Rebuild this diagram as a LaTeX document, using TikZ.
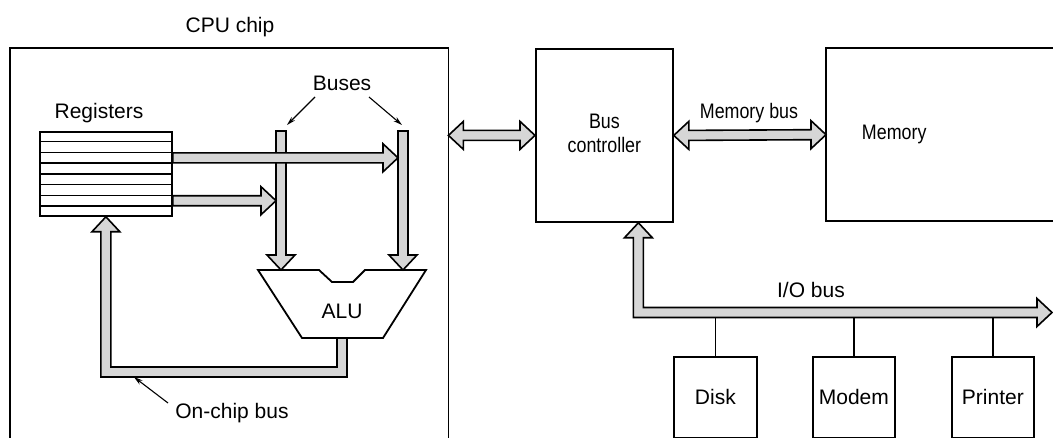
\documentclass[tikz,border=0pt]{standalone}
\usepackage{fontspec}
\setmainfont{Liberation Sans}
\usepackage{graphicx}
\usetikzlibrary{calc,arrows.meta}
\definecolor{busgray}{RGB}{214,214,214}
\newcommand\fatdown[2]{\filldraw[fatbus] ($(#1)+(-5,0)$) -- ($(#2)+(-5,-15)$) -- ++(-9,0) -- (#2) -- ++(14,-15) -- ++(-9,0) -- ($(#1)+(5,0)$) -- cycle;}
\newcommand\fatright[2]{\filldraw[fatbus] ($(#1)+(0,-5)$) -- ($(#2)+(-15,-5)$) -- ++(0,-9) -- (#2) -- ++(-15,14) -- ++(0,-9) -- ($(#1)+(0,5)$) -- cycle;}
\newcommand\fatboth[2]{\filldraw[fatbus] (#1) -- ++(15,-14) -- ++(0,9) -- ($(#2)+(-15,-5)$) -- ++(0,-9) -- (#2) -- ++(-15,14) -- ++(0,-9) -- ($(#1)+(15,5)$) -- ++(0,9) -- cycle;}
\begin{document}
\begin{tikzpicture}[x=1pt,y=-1pt,
  every node/.style={font=\fontsize{21}{24}\selectfont, inner sep=0pt},
  box/.style={draw, line width=1.8pt, anchor=north west},
  edgeline/.style={line width=1.8pt},
  fatbus/.style={fill=busgray, draw=black, line width=1.6pt, line join=miter},
  lbl/.style={anchor=base},
  pointer/.style={line width=1.1pt, -{Stealth[length=9pt,width=5pt]}}]
\useasboundingbox (0,0) rectangle (1053,438);

% CPU chip
\node[anchor=north west, minimum width=438, minimum height=392] (cpu) at (10,48) {};
\draw[edgeline] (cpu.south west) -- (cpu.north west) -- (cpu.north east) -- (cpu.south east);
\node[lbl] (cpulbl) at (230,33) {CPU chip};

% Registers
\node[box, minimum width=132, minimum height=84] (reg) at (39,131) {};
\foreach \k in {1,...,7}
  \draw[line width=1.5pt] ($(reg.north west)!\k/8!(reg.south west)$) -- ($(reg.north east)!\k/8!(reg.south east)$);
\node[lbl] (reglbl) at (99,119) {Registers};

% coordinates
\coordinate (alu1) at (281,270);
\coordinate (alu2) at (403,270);
\coordinate (aluB) at (342,338);
\coordinate (b1) at (281,131);
\coordinate (b2) at (403,131);
\coordinate (b1w) at ($(b1)+(-5,0)$);
\coordinate (b2w) at ($(b2)+(-5,0)$);
\coordinate (ocy) at (0,372);
\coordinate (r3) at ($(reg.north east)!2.5/8!(reg.south east)$);
\coordinate (r7) at ($(reg.north east)!6.5/8!(reg.south east)$);

% On-chip bus
\filldraw[fatbus] ($(aluB)+(5,0)$) -- ($(aluB |- ocy)+(5,5)$) -- ($(reg.south |- ocy)+(-5,5)$)
  -- ($(reg.south)+(-5,15)$) -- ++(-9,0) -- (reg.south) -- ++(14,15) -- ++(-9,0)
  -- ($(reg.south |- ocy)+(5,-5)$) -- ($(aluB |- ocy)+(-5,-5)$) -- ($(aluB)+(-5,0)$) -- cycle;

% ALU
\draw[edgeline, fill=white] (258,270) -- (319,270) -- (332,282) -- (353,282) -- (365,270) -- (426,270) -- (383,338) -- (302,338) -- cycle;
\node[lbl] (alulbl) at (342,319) {ALU};

% Buses
\fatdown{b1}{alu1}
\fatdown{b2}{alu2}
\fatright{r3}{b2w |- r3}
\fatright{r7}{b1w |- r7}
\node[lbl] (buslbl) at (342,91) {Buses};
\draw[pointer] ($(buslbl.base)+(-27,6)$) -- ($(b1)+(6,-6)$);
\draw[pointer] ($(buslbl.base)+(27,6)$) -- ($(b2)+(-1,-6)$);

\node[lbl] (oclbl) at (232,418) {On-chip bus};
\draw[pointer] ($(oclbl.base)+(-64,-15)$) -- ($(reg.south |- ocy)+(28,5)$);

% Bus controller and memory
\node[box, minimum width=137, minimum height=173] (bc) at (535,48)
  {\scalebox{0.85}[1]{\begin{tabular}{@{}c@{}}Bus\\controller\end{tabular}}};
\node[anchor=north west, minimum width=136, minimum height=173] (mem) at (826,48) {\scalebox{0.85}[1]{Memory}};
\coordinate (edge) at (1060,0);
\draw[edgeline] (edge |- mem.north) -- (mem.north west) -- (mem.south west) -- (edge |- mem.south);

\fatboth{cpu.east |- bc.west}{bc.west}
\fatboth{bc.east}{mem.west}
\node[lbl] (mblbl) at (749,119) {\scalebox{0.85}[1]{Memory bus}};

% I/O bus
\coordinate (ioT) at ($(bc.south)+(34,0)$);
\coordinate (ioE) at (1052,312.5);
\coordinate (ioB) at ($(ioE)+(0,5)$);
\filldraw[fatbus] (ioT) -- ++(14,15) -- ++(-9,0) -- ($(ioT |- ioE)+(5,-5)$) -- ($(ioE)+(-15,-5)$) -- ++(0,-9) -- (ioE)
  -- ++(-15,14) -- ++(0,-9) -- ($(ioT |- ioE)+(-5,5)$) -- ($(ioT)+(-5,15)$) -- ++(-9,0) -- cycle;
\node[lbl] (iolbl) at (811,298) {I/O bus};

% Devices
\node[box, minimum width=83, minimum height=81] (disk) at (673,356) {Disk};
\node[box, minimum width=82, minimum height=81] (modem) at (812,356) {Modem};
\node[box, minimum width=82, minimum height=81] (printer) at (951,356) {Printer};
\foreach \d in {disk,modem,printer}
  \draw[edgeline] (\d.north) -- (\d.north |- ioB);
\end{tikzpicture}
\end{document}
